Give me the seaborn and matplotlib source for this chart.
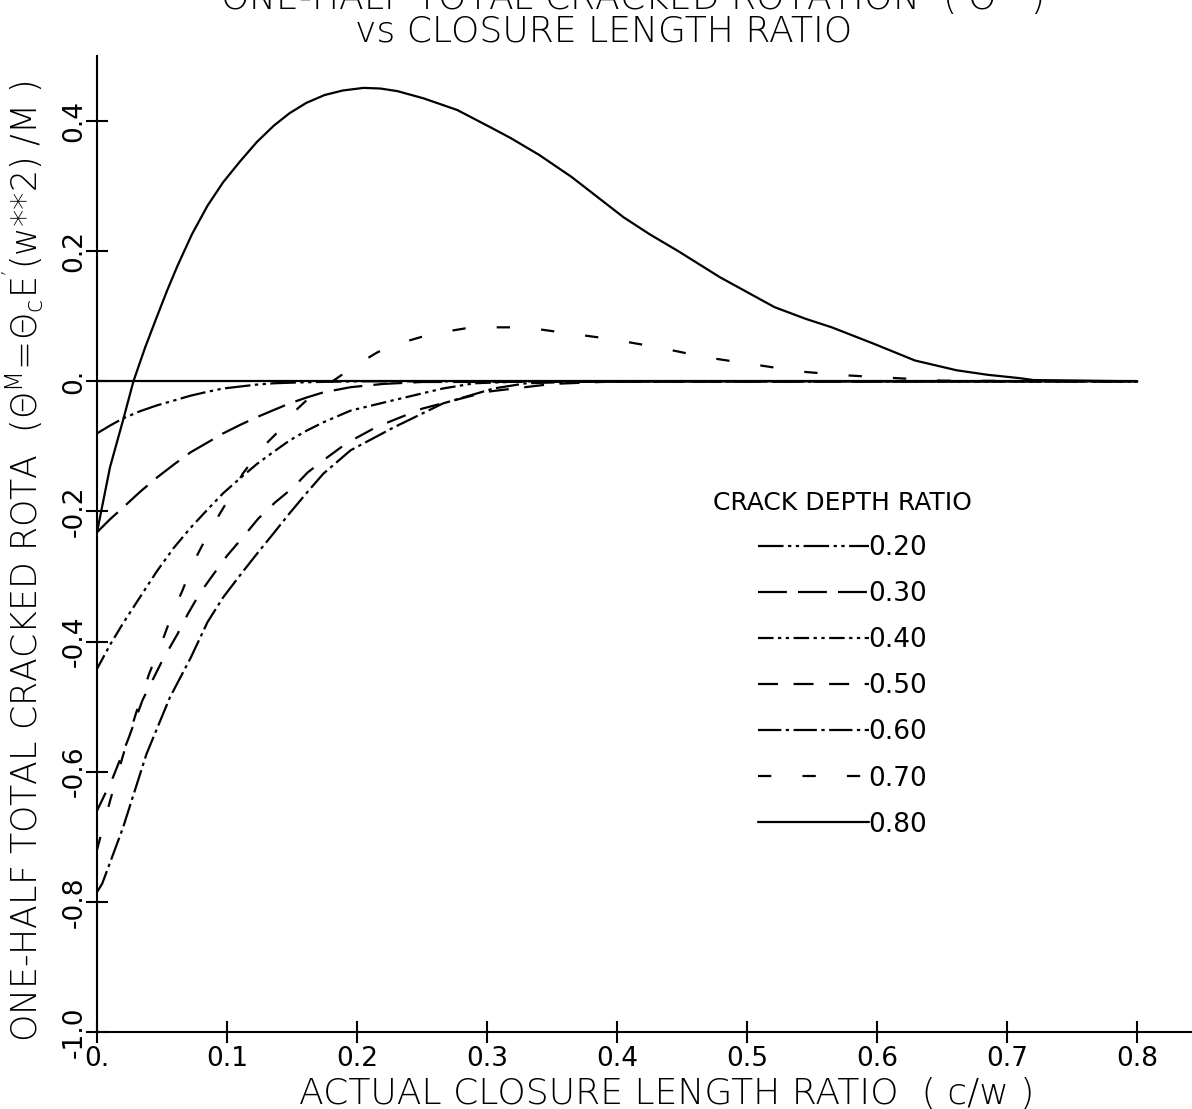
import matplotlib
matplotlib.use("Agg")
import matplotlib.pyplot as plt
import seaborn as sns

# actual closure length ratio (c/w) vs one-half total cracked rotation, per crack depth ratio
X_020 = [0, 0.01, 0.02, 0.033, 0.046, 0.06, 0.072, 0.085, 0.097, 0.11, 0.123, 0.136, 0.15, 0.17, 0.2, 0.8]
Y_020 = [-0.08, -0.068, -0.057, -0.046, -0.037, -0.029, -0.022, -0.016, -0.011, -0.008, -0.005, -0.003, -0.002, -0.001, 0, 0]

X_030 = [0, 0.01, 0.02, 0.033, 0.046, 0.059, 0.072, 0.085, 0.097, 0.11, 0.123, 0.136, 0.148, 0.161, 0.174, 0.195, 0.22, 0.25, 0.8]
Y_030 = [-0.232, -0.212, -0.194, -0.17, -0.148, -0.128, -0.109, -0.094, -0.08, -0.067, -0.055, -0.044, -0.034, -0.025, -0.017, -0.009, -0.004, -0.001, 0]

X_040 = [0, 0.01, 0.02, 0.031, 0.046, 0.059, 0.072, 0.085, 0.097, 0.11, 0.123, 0.136, 0.148, 0.161, 0.174, 0.195, 0.228, 0.266, 0.29, 0.33, 0.8]
Y_040 = [-0.442, -0.405, -0.372, -0.338, -0.292, -0.256, -0.225, -0.197, -0.172, -0.149, -0.127, -0.108, -0.091, -0.076, -0.063, -0.045, -0.029, -0.011, -0.003, 0, 0]

X_050 = [0, 0.012, 0.024, 0.035, 0.05, 0.062, 0.07, 0.079, 0.089, 0.1, 0.112, 0.124, 0.137, 0.151, 0.162, 0.177, 0.192, 0.215, 0.25, 0.3, 0.35, 0.4, 0.8]
Y_050 = [-0.66, -0.61, -0.55, -0.49, -0.43, -0.388, -0.357, -0.326, -0.298, -0.268, -0.24, -0.211, -0.186, -0.163, -0.14, -0.117, -0.095, -0.07, -0.042, -0.016, -0.004, 0, 0]

X_060 = [0, 0.004, 0.02, 0.038, 0.056, 0.072, 0.085, 0.097, 0.11, 0.123, 0.136, 0.148, 0.161, 0.174, 0.195, 0.228, 0.266, 0.305, 0.33, 0.38, 0.8]
Y_060 = [-0.785, -0.772, -0.686, -0.573, -0.486, -0.425, -0.37, -0.332, -0.298, -0.265, -0.233, -0.203, -0.172, -0.142, -0.106, -0.071, -0.034, -0.011, -0.003, 0, 0]

X_070 = [0, 0.01, 0.02, 0.03, 0.04, 0.05, 0.058, 0.066, 0.075, 0.088, 0.1, 0.112, 0.128, 0.14, 0.151, 0.165, 0.181, 0.2, 0.216,
         0.232, 0.249, 0.267, 0.285, 0.303, 0.322, 0.34, 0.358, 0.395, 0.432, 0.468, 0.505, 0.541, 0.578, 0.614, 0.65, 0.8]
Y_070 = [-0.72, -0.645, -0.575, -0.51, -0.45, -0.4, -0.357, -0.32, -0.275, -0.225, -0.185, -0.142, -0.1, -0.076, -0.048, -0.022, 0, 0.026, 0.045,
         0.058, 0.068, 0.076, 0.082, 0.083, 0.083, 0.08, 0.075, 0.065, 0.052, 0.037, 0.026, 0.015, 0.009, 0.005, 0.001, 0]

X_080 = [0, 0.01, 0.02, 0.028, 0.037, 0.046, 0.054, 0.062, 0.073, 0.085, 0.097, 0.11, 0.123, 0.136, 0.148, 0.161, 0.175, 0.189, 0.205, 0.218,
         0.231, 0.251, 0.277, 0.302, 0.318, 0.34, 0.365, 0.385, 0.405, 0.425, 0.447, 0.479, 0.5, 0.521, 0.545, 0.565, 0.597, 0.629, 0.661,
         0.685, 0.709, 0.72, 0.8]
Y_080 = [-0.232, -0.132, -0.06, 0, 0.052, 0.099, 0.14, 0.178, 0.226, 0.27, 0.306, 0.338, 0.368, 0.393, 0.412, 0.428, 0.44, 0.447, 0.451, 0.45,
         0.446, 0.435, 0.417, 0.391, 0.374, 0.348, 0.314, 0.283, 0.252, 0.226, 0.2, 0.16, 0.137, 0.114, 0.096, 0.083, 0.058, 0.032, 0.017,
         0.01, 0.005, 0.002, 0]

DEPTHS = ["0.20", "0.30", "0.40", "0.50", "0.60", "0.70", "0.80"]
X_ALL = [X_020, X_030, X_040, X_050, X_060, X_070, X_080]
Y_ALL = [Y_020, Y_030, Y_040, Y_050, Y_060, Y_070, Y_080]

X_TICKS = [0, 0.1, 0.2, 0.3, 0.4, 0.5, 0.6, 0.7, 0.8]
X_TICK_LABELS = ["0.", "0.1", "0.2", "0.3", "0.4", "0.5", "0.6", "0.7", "0.8"]
Y_TICKS = [-1.0, -0.8, -0.6, -0.4, -0.2, 0, 0.2, 0.4]
Y_TICK_LABELS = ["-1.0", "-0.8", "-0.6", "-0.4", "-0.2", "0.", "0.2", "0.4"]

# plotter line patterns
STYLES = {
    "0.20": (0, (11.5, 2, 1.5, 2, 1.5, 2)),
    "0.30": (0, (13, 5)),
    "0.40": (0, (7, 2, 1.5, 2, 1.5, 2)),
    "0.50": (0, (9, 7)),
    "0.60": (0, (10.5, 2, 1.5, 2)),
    "0.70": (0, (6, 14)),
    "0.80": "-",
}

sns.set_style("ticks")
plt.rcParams["font.family"] = ["DejaVu Sans"]
plt.rcParams["mathtext.default"] = "regular"
plt.rcParams["text.color"] = "black"
plt.rcParams["axes.labelcolor"] = "black"
plt.rcParams["xtick.color"] = "black"
plt.rcParams["ytick.color"] = "black"

W, H = 1192, 1109
fig = plt.figure(figsize=(W / 100, H / 100), dpi=100)
ax = fig.add_axes([97 / W, 77 / H, 1095 / W, 976 / H])

ax.hlines(0, 0, 0.8, color="black", lw=1.6)
for depth, xs, ys in zip(DEPTHS, X_ALL, Y_ALL):
    sns.lineplot(x=xs, y=ys, ax=ax, color="black", lw=1.6, linestyle=STYLES[depth],
                 label=depth, estimator=None, sort=False)

ax.set_xlim(0, 0.842)
ax.set_ylim(-1.0, 0.5)
ax.spines[["top", "right"]].set_visible(False)
for s in ["left", "bottom"]:
    ax.spines[s].set_linewidth(1.5)
    ax.spines[s].set_color("black")

ax.set_xticks(X_TICKS)
ax.set_xticklabels(X_TICK_LABELS)
ax.set_yticks(Y_TICKS)
ax.set_yticklabels(Y_TICK_LABELS, rotation=90, va="center")
ax.tick_params(direction="inout", length=16, width=1.5, labelsize=19, colors="black")
ax.tick_params(axis="x", pad=2)
ax.tick_params(axis="y", pad=-1)

ax.set_xlabel("ACTUAL CLOSURE LENGTH RATIO  ( c/w )", fontsize=26, fontweight="light")
ax.xaxis.set_label_coords(0.52, -0.046)
ax.set_ylabel("")

fig.text(23 / W, 1 - 1042 / H,
         r"ONE-HALF TOTAL CRACKED ROTA  ($\Theta^{M}$=$\Theta_{c}$E$^{'}$(w**2) /M )",
         rotation=90, ha="center", va="bottom", fontsize=25, fontweight="light")

fig.text(632 / W, 1 - 10 / H, r"ONE-HALF TOTAL CRACKED ROTATION  ( $\Theta^{M}$ )",
         ha="center", va="baseline", fontsize=26, fontweight="light")
fig.text(604 / W, 1 - 42 / H, "vs CLOSURE LENGTH RATIO",
         ha="center", va="baseline", fontsize=26, fontweight="light")

handles = ax.get_lines()[-len(DEPTHS):]
leg = ax.legend(handles, DEPTHS, title="CRACK DEPTH RATIO", title_fontsize=18, fontsize=19,
                frameon=False, handlelength=4.2, handletextpad=0, labelspacing=0.76, borderpad=0,
                loc="upper left", bbox_to_anchor=(700 / W, 1 - 478 / H), bbox_transform=fig.transFigure)

fig.savefig("out.png", dpi=100)
